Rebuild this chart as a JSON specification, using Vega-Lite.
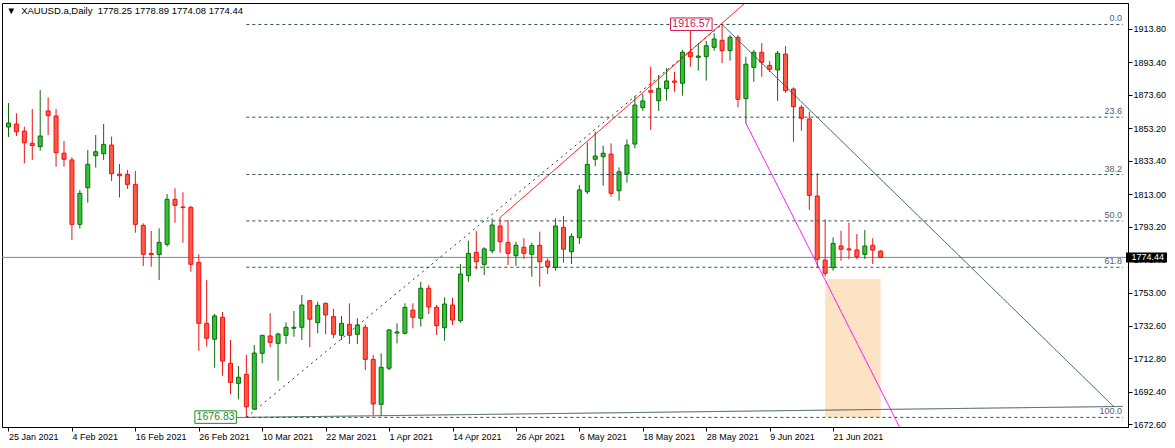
{
 "$schema": "https://vega.github.io/schema/vega-lite/v6.json",
 "width": 1126, "height": 424,
 "autosize": {"type": "none"},
 "padding": {"left": 2, "top": 3, "right": 47, "bottom": 21},
 "background": "white",
 "view": {"stroke": "#000", "strokeWidth": 1},
 "title": {"text": "▼\u00a0\u00a0XAUUSD.a,Daily\u00a0\u00a01778.25 1778.89 1774.08 1774.44", "anchor": "start", "frame": "group", "offset": 0, "dx": 4.5, "dy": 21, "baseline": "alphabetic", "fontSize": 9.5, "font": "Liberation Sans", "fontWeight": "normal", "color": "#000"},
 "config": {
  "axis": {"grid": false, "domainColor": "#000", "tickColor": "#000", "labelColor": "#000", "labelFont": "Liberation Sans", "labelFontSize": 9}
 },
 "resolve": {"axis": {"x": "independent", "y": "independent"}},
 "datasets": {
  "ohlc": [
   {"d":"2021-01-25","i":0,"o":1854.0,"h":1868.6,"l":1847.9,"c":1856.4},
   {"d":"2021-01-26","i":1,"o":1855.8,"h":1862.4,"l":1848.5,"c":1851.1},
   {"d":"2021-01-27","i":2,"o":1851.5,"h":1854.2,"l":1831.9,"c":1844.4},
   {"d":"2021-01-28","i":3,"o":1844.1,"h":1865.0,"l":1833.9,"c":1842.7},
   {"d":"2021-01-29","i":4,"o":1842.0,"h":1876.6,"l":1839.5,"c":1848.5},
   {"d":"2021-02-01","i":5,"o":1863.8,"h":1872.1,"l":1849.1,"c":1860.9},
   {"d":"2021-02-02","i":6,"o":1860.7,"h":1865.0,"l":1829.8,"c":1838.3},
   {"d":"2021-02-03","i":7,"o":1838.0,"h":1845.5,"l":1829.8,"c":1834.3},
   {"d":"2021-02-04","i":8,"o":1833.9,"h":1835.5,"l":1785.0,"c":1794.6},
   {"d":"2021-02-05","i":9,"o":1794.6,"h":1815.6,"l":1792.0,"c":1813.5},
   {"d":"2021-02-08","i":10,"o":1817.0,"h":1840.0,"l":1807.8,"c":1831.2},
   {"d":"2021-02-09","i":11,"o":1836.5,"h":1849.1,"l":1829.2,"c":1838.9},
   {"d":"2021-02-10","i":12,"o":1837.7,"h":1855.8,"l":1833.9,"c":1843.4},
   {"d":"2021-02-11","i":13,"o":1843.0,"h":1848.1,"l":1821.0,"c":1825.5},
   {"d":"2021-02-12","i":14,"o":1825.3,"h":1831.4,"l":1810.9,"c":1824.3},
   {"d":"2021-02-15","i":15,"o":1825.1,"h":1827.8,"l":1816.2,"c":1819.0},
   {"d":"2021-02-16","i":16,"o":1819.0,"h":1827.2,"l":1789.5,"c":1794.6},
   {"d":"2021-02-17","i":17,"o":1794.0,"h":1795.2,"l":1769.2,"c":1776.3},
   {"d":"2021-02-18","i":18,"o":1776.9,"h":1790.5,"l":1768.8,"c":1776.1},
   {"d":"2021-02-19","i":19,"o":1776.1,"h":1792.2,"l":1760.6,"c":1783.6},
   {"d":"2021-02-22","i":20,"o":1782.4,"h":1813.1,"l":1781.0,"c":1809.9},
   {"d":"2021-02-23","i":21,"o":1809.9,"h":1816.6,"l":1795.6,"c":1806.2},
   {"d":"2021-02-24","i":22,"o":1805.2,"h":1814.2,"l":1783.4,"c":1804.8},
   {"d":"2021-02-25","i":23,"o":1805.0,"h":1805.8,"l":1765.7,"c":1770.2},
   {"d":"2021-02-26","i":24,"o":1771.4,"h":1776.3,"l":1717.5,"c":1734.2},
   {"d":"2021-03-01","i":25,"o":1734.2,"h":1760.6,"l":1720.0,"c":1725.1},
   {"d":"2021-03-02","i":26,"o":1724.5,"h":1739.9,"l":1707.1,"c":1738.7},
   {"d":"2021-03-03","i":27,"o":1737.9,"h":1741.1,"l":1702.2,"c":1711.2},
   {"d":"2021-03-04","i":28,"o":1709.8,"h":1724.0,"l":1690.9,"c":1698.2},
   {"d":"2021-03-05","i":29,"o":1697.6,"h":1708.2,"l":1687.8,"c":1701.3},
   {"d":"2021-03-08","i":30,"o":1703.1,"h":1714.9,"l":1676.83,"c":1683.3},
   {"d":"2021-03-09","i":31,"o":1681.9,"h":1721.0,"l":1681.3,"c":1716.1},
   {"d":"2021-03-10","i":32,"o":1715.9,"h":1727.1,"l":1709.8,"c":1726.9},
   {"d":"2021-03-11","i":33,"o":1726.5,"h":1740.3,"l":1719.6,"c":1722.6},
   {"d":"2021-03-12","i":34,"o":1722.0,"h":1728.5,"l":1699.2,"c":1727.7},
   {"d":"2021-03-15","i":35,"o":1726.9,"h":1734.8,"l":1721.6,"c":1731.8},
   {"d":"2021-03-16","i":36,"o":1731.2,"h":1741.7,"l":1726.0,"c":1731.8},
   {"d":"2021-03-17","i":37,"o":1731.8,"h":1751.5,"l":1724.0,"c":1745.4},
   {"d":"2021-03-18","i":38,"o":1748.0,"h":1748.4,"l":1719.6,"c":1736.7},
   {"d":"2021-03-19","i":39,"o":1734.6,"h":1747.4,"l":1728.1,"c":1745.2},
   {"d":"2021-03-22","i":40,"o":1746.4,"h":1747.0,"l":1727.5,"c":1739.3},
   {"d":"2021-03-23","i":41,"o":1738.3,"h":1743.0,"l":1725.1,"c":1727.5},
   {"d":"2021-03-24","i":42,"o":1726.9,"h":1738.7,"l":1724.0,"c":1734.2},
   {"d":"2021-03-25","i":43,"o":1733.6,"h":1746.4,"l":1721.6,"c":1726.9},
   {"d":"2021-03-26","i":44,"o":1727.5,"h":1737.3,"l":1721.6,"c":1733.2},
   {"d":"2021-03-29","i":45,"o":1731.8,"h":1733.6,"l":1705.7,"c":1712.2},
   {"d":"2021-03-30","i":46,"o":1712.2,"h":1714.9,"l":1678.3,"c":1685.0},
   {"d":"2021-03-31","i":47,"o":1684.8,"h":1715.9,"l":1677.9,"c":1707.4},
   {"d":"2021-04-01","i":48,"o":1706.8,"h":1730.6,"l":1705.7,"c":1730.2},
   {"d":"2021-04-05","i":49,"o":1728.3,"h":1734.2,"l":1722.0,"c":1728.9},
   {"d":"2021-04-06","i":50,"o":1728.1,"h":1746.4,"l":1727.5,"c":1743.9},
   {"d":"2021-04-07","i":51,"o":1742.3,"h":1746.4,"l":1731.2,"c":1737.9},
   {"d":"2021-04-08","i":52,"o":1737.3,"h":1759.6,"l":1732.2,"c":1755.6},
   {"d":"2021-04-09","i":53,"o":1755.6,"h":1757.6,"l":1739.9,"c":1744.2},
   {"d":"2021-04-12","i":54,"o":1744.0,"h":1745.4,"l":1727.1,"c":1732.8},
   {"d":"2021-04-13","i":55,"o":1731.5,"h":1750.0,"l":1723.6,"c":1746.0},
   {"d":"2021-04-14","i":56,"o":1745.4,"h":1749.8,"l":1733.2,"c":1736.2},
   {"d":"2021-04-15","i":57,"o":1735.8,"h":1770.4,"l":1734.6,"c":1764.3},
   {"d":"2021-04-16","i":58,"o":1763.3,"h":1784.6,"l":1759.6,"c":1776.9},
   {"d":"2021-04-19","i":59,"o":1777.5,"h":1790.5,"l":1767.2,"c":1771.8},
   {"d":"2021-04-20","i":60,"o":1770.2,"h":1780.6,"l":1763.7,"c":1779.6},
   {"d":"2021-04-21","i":61,"o":1778.5,"h":1798.3,"l":1776.9,"c":1794.2},
   {"d":"2021-04-22","i":62,"o":1793.6,"h":1798.3,"l":1777.3,"c":1784.0},
   {"d":"2021-04-23","i":63,"o":1783.6,"h":1797.3,"l":1769.8,"c":1776.9},
   {"d":"2021-04-26","i":64,"o":1775.5,"h":1784.0,"l":1769.2,"c":1781.8},
   {"d":"2021-04-27","i":65,"o":1780.6,"h":1786.1,"l":1773.5,"c":1776.9},
   {"d":"2021-04-28","i":66,"o":1776.3,"h":1783.4,"l":1762.7,"c":1781.6},
   {"d":"2021-04-29","i":67,"o":1781.8,"h":1790.1,"l":1756.6,"c":1771.8},
   {"d":"2021-04-30","i":68,"o":1772.2,"h":1773.9,"l":1764.3,"c":1768.8},
   {"d":"2021-05-03","i":69,"o":1768.2,"h":1798.3,"l":1766.3,"c":1793.6},
   {"d":"2021-05-04","i":70,"o":1792.8,"h":1799.7,"l":1771.2,"c":1779.4},
   {"d":"2021-05-05","i":71,"o":1777.9,"h":1789.1,"l":1770.4,"c":1787.3},
   {"d":"2021-05-06","i":72,"o":1786.5,"h":1818.6,"l":1782.6,"c":1815.6},
   {"d":"2021-05-07","i":73,"o":1814.5,"h":1844.4,"l":1813.1,"c":1831.2},
   {"d":"2021-05-10","i":74,"o":1834.3,"h":1851.1,"l":1830.2,"c":1836.3},
   {"d":"2021-05-11","i":75,"o":1835.9,"h":1842.6,"l":1818.2,"c":1838.0},
   {"d":"2021-05-12","i":76,"o":1837.5,"h":1844.0,"l":1811.5,"c":1813.5},
   {"d":"2021-05-13","i":77,"o":1815.1,"h":1829.4,"l":1809.0,"c":1826.7},
   {"d":"2021-05-14","i":78,"o":1825.3,"h":1846.5,"l":1820.0,"c":1843.0},
   {"d":"2021-05-17","i":79,"o":1843.6,"h":1872.9,"l":1841.0,"c":1867.4},
   {"d":"2021-05-18","i":80,"o":1865.8,"h":1874.1,"l":1863.8,"c":1869.9},
   {"d":"2021-05-19","i":81,"o":1876.2,"h":1890.8,"l":1852.2,"c":1875.2},
   {"d":"2021-05-20","i":82,"o":1870.0,"h":1885.7,"l":1863.8,"c":1877.6},
   {"d":"2021-05-21","i":83,"o":1877.4,"h":1889.8,"l":1870.0,"c":1882.1},
   {"d":"2021-05-24","i":84,"o":1882.1,"h":1887.7,"l":1875.5,"c":1881.3},
   {"d":"2021-05-25","i":85,"o":1880.7,"h":1901.0,"l":1873.1,"c":1899.6},
   {"d":"2021-05-26","i":86,"o":1899.6,"h":1912.8,"l":1890.8,"c":1896.9},
   {"d":"2021-05-27","i":87,"o":1896.5,"h":1905.1,"l":1888.4,"c":1897.3},
   {"d":"2021-05-28","i":88,"o":1896.9,"h":1906.5,"l":1882.3,"c":1903.6},
   {"d":"2021-05-31","i":89,"o":1902.6,"h":1911.2,"l":1900.5,"c":1907.7},
   {"d":"2021-06-01","i":90,"o":1906.9,"h":1916.57,"l":1892.9,"c":1900.6},
   {"d":"2021-06-02","i":91,"o":1900.6,"h":1910.1,"l":1894.5,"c":1908.7},
   {"d":"2021-06-03","i":92,"o":1908.7,"h":1910.1,"l":1866.0,"c":1870.9},
   {"d":"2021-06-04","i":93,"o":1871.3,"h":1896.9,"l":1856.3,"c":1892.3},
   {"d":"2021-06-07","i":94,"o":1890.4,"h":1901.0,"l":1881.6,"c":1899.6},
   {"d":"2021-06-08","i":95,"o":1899.6,"h":1905.1,"l":1884.7,"c":1893.5},
   {"d":"2021-06-09","i":96,"o":1891.6,"h":1894.3,"l":1887.6,"c":1889.2},
   {"d":"2021-06-10","i":97,"o":1888.8,"h":1900.4,"l":1870.0,"c":1899.0},
   {"d":"2021-06-11","i":98,"o":1898.5,"h":1903.4,"l":1874.9,"c":1876.2},
   {"d":"2021-06-14","i":99,"o":1877.2,"h":1878.2,"l":1845.0,"c":1866.4},
   {"d":"2021-06-15","i":100,"o":1866.0,"h":1867.4,"l":1851.7,"c":1859.3},
   {"d":"2021-06-16","i":101,"o":1858.9,"h":1863.3,"l":1803.4,"c":1812.3},
   {"d":"2021-06-17","i":102,"o":1811.9,"h":1825.7,"l":1767.8,"c":1773.3},
   {"d":"2021-06-18","i":103,"o":1772.8,"h":1797.7,"l":1762.7,"c":1764.7},
   {"d":"2021-06-21","i":104,"o":1768.2,"h":1786.7,"l":1766.3,"c":1783.0},
   {"d":"2021-06-22","i":105,"o":1781.4,"h":1790.7,"l":1772.4,"c":1779.4},
   {"d":"2021-06-23","i":106,"o":1779.6,"h":1795.6,"l":1773.5,"c":1779.0},
   {"d":"2021-06-24","i":107,"o":1779.0,"h":1788.7,"l":1773.3,"c":1774.9},
   {"d":"2021-06-25","i":108,"o":1776.3,"h":1791.2,"l":1773.5,"c":1781.4},
   {"d":"2021-06-28","i":109,"o":1781.8,"h":1786.1,"l":1770.4,"c":1778.9},
   {"d":"2021-06-29","i":110,"o":1778.25,"h":1778.89,"l":1774.08,"c":1774.44}
  ],
  "fib": [
   {"level":"0.0","p":1916.57},
   {"level":"23.6","p":1859.99},
   {"level":"38.2","p":1824.99},
   {"level":"50.0","p":1796.70},
   {"level":"61.8","p":1768.41},
   {"level":"100.0","p":1676.83}
  ],
  "zone": [{"i0":103,"i1":110,"p0":1676.83,"p1":1761.2}],
  "bid": [{"p":1774.44}],
  "trend": [
   {"name":"dashed","i":30,"p":1676.83},{"name":"dashed","i":90,"p":1916.57},
   {"name":"red","i":61.9,"p":1798.3},{"name":"red","i":92.75,"p":1929.0},
   {"name":"slate","i":90,"p":1916.57},{"name":"slate","i":139.4,"p":1683.4},
   {"name":"magenta","i":93,"p":1856.3},{"name":"magenta","i":112.37,"p":1670.95},
   {"name":"support","i":28.75,"p":1676.75},{"name":"support","i":140.5625,"p":1683.5}
  ],
  "plabels": [
   {"kind":"low","i":30,"p":1676.83},
   {"kind":"high","i":90,"p":1916.57}
  ]
 },
 "layer": [
  {
   "data": {"name": "ohlc"},
   "mark": {"type": "rule", "strokeWidth": 1, "opacity": 0},
   "encoding": {
    "x": {"field": "i", "type": "quantitative", "scale": {"domain": [-0.1875, 140.5625], "nice": false, "zero": false},
      "axis": {"orient": "bottom", "values": [0,8,16,24,32,40,48,56,64,72,80,88,96,104],
        "labelExpr": "['25 Jan 2021','4 Feb 2021','16 Feb 2021','26 Feb 2021','10 Mar 2021','22 Mar 2021','1 Apr 2021','14 Apr 2021','26 Apr 2021','6 May 2021','18 May 2021','28 May 2021','9 Jun 2021','21 Jun 2021'][round(datum.value/8)]",
        "labelAlign": "left", "labelBaseline": "top", "labelPadding": 1, "tickSize": 4, "labelFlush": false, "labelOverlap": false, "labelBound": false, "title": null}},
    "y": {"field": "l", "type": "quantitative", "scale": {"domain": [1670.95, 1929.66], "nice": false, "zero": false},
      "axis": {"orient": "right", "values": [1913.8,1893.4,1873.6,1853.2,1833.4,1813.0,1793.2,1773.4,1753.0,1732.6,1712.8,1692.4,1672.6],
        "format": ".2f", "labelAlign": "left", "labelBaseline": "middle", "labelPadding": 1, "tickSize": 4, "labelFlush": false, "labelOverlap": false, "labelBound": false, "title": null}},
    "y2": {"field": "h"}
   }
  },
  {
   "data": {"name": "zone"},
   "mark": {"type": "rect", "color": "#FDE2C4"},
   "encoding": {
    "x": {"field": "i0", "type": "quantitative", "axis": null},
    "x2": {"field": "i1"},
    "y": {"field": "p0", "type": "quantitative", "axis": null},
    "y2": {"field": "p1"}
   }
  },
  {
   "data": {"name": "bid"},
   "mark": {"type": "rule", "color": "#75889A", "strokeWidth": 1},
   "encoding": {"y": {"field": "p", "type": "quantitative", "axis": null}}
  },
  {
   "data": {"name": "ohlc"},
   "mark": {"type": "rule", "strokeWidth": 1},
   "encoding": {
    "x": {"field": "i", "type": "quantitative", "axis": null},
    "y": {"field": "l", "type": "quantitative", "axis": null},
    "y2": {"field": "h"},
    "color": {"condition": {"test": "datum.c >= datum.o", "value": "#0B6B0B"}, "value": "#F01010"}
   }
  },
  {
   "data": {"name": "ohlc"},
   "mark": {"type": "bar", "size": 4, "strokeWidth": 1, "orient": "vertical"},
   "encoding": {
    "x": {"field": "i", "type": "quantitative", "axis": null},
    "y": {"field": "o", "type": "quantitative", "axis": null},
    "y2": {"field": "c"},
    "fill": {"condition": {"test": "datum.c >= datum.o", "value": "#33C433"}, "value": "#FF5A45"},
    "stroke": {"condition": {"test": "datum.c >= datum.o", "value": "#0B6B0B"}, "value": "#F01010"}
   }
  },
  {
   "data": {"name": "fib"},
   "mark": {"type": "rule", "color": "#2F4F4F", "strokeDash": [3, 3], "strokeWidth": 1},
   "encoding": {
    "x": {"datum": 30, "type": "quantitative", "axis": null},
    "x2": {"datum": 140.5625},
    "y": {"field": "p", "type": "quantitative", "axis": null}
   }
  },
  {
   "data": {"name": "trend"},
   "mark": {"type": "line", "strokeWidth": 1},
   "encoding": {
    "x": {"field": "i", "type": "quantitative", "axis": null},
    "y": {"field": "p", "type": "quantitative", "axis": null},
    "detail": {"field": "name"},
    "color": {"field": "name", "type": "nominal", "scale": {"domain": ["dashed","red","slate","magenta","support"], "range": ["#333333","#FF0000","#2F4F4F","#FF00FF","#2F4F4F"]}, "legend": null},
    "strokeDash": {"field": "name", "type": "nominal", "scale": {"domain": ["dashed","red","slate","magenta","support"], "range": [[2,4],[1,0],[1,0],[1,0],[1,0]]}, "legend": null}
   }
  },
  {
   "data": {"name": "fib"},
   "mark": {"type": "text", "align": "right", "baseline": "bottom", "dx": -1, "dy": -1, "fontSize": 9, "font": "Liberation Sans", "color": "#4F6070"},
   "encoding": {
    "x": {"datum": 140.5625, "type": "quantitative", "axis": null},
    "y": {"field": "p", "type": "quantitative", "axis": null},
    "text": {"field": "level"}
   }
  },
  {
   "data": {"name": "plabels"},
   "mark": {"type": "rect", "fill": "white", "strokeWidth": 1, "xOffset": -51.5, "x2Offset": -10, "yOffset": -6.5, "y2Offset": 6},
   "encoding": {
    "x": {"field": "i", "type": "quantitative", "axis": null},
    "x2": {"field": "i"},
    "y": {"field": "p", "type": "quantitative", "axis": null},
    "y2": {"field": "p"},
    "stroke": {"field": "kind", "type": "nominal", "scale": {"domain": ["low","high"], "range": ["#1E8A1E","#D0145A"]}, "legend": null}
   }
  },
  {
   "data": {"name": "plabels"},
   "mark": {"type": "text", "align": "center", "baseline": "middle", "xOffset": -30.75, "fontSize": 10.5, "font": "Liberation Sans"},
   "encoding": {
    "x": {"field": "i", "type": "quantitative", "axis": null},
    "y": {"field": "p", "type": "quantitative", "axis": null},
    "text": {"field": "p", "format": ".2f"},
    "fill": {"field": "kind", "type": "nominal", "scale": {"domain": ["low","high"], "range": ["#1E8A1E","#D0145A"]}, "legend": null}
   }
  },
  {
   "data": {"name": "bid"},
   "mark": {"type": "rect", "fill": "#000", "xOffset": 3, "x2Offset": 44, "yOffset": -5, "y2Offset": 5},
   "encoding": {
    "x": {"datum": 140.5625, "type": "quantitative", "axis": null},
    "x2": {"datum": 140.5625},
    "y": {"field": "p", "type": "quantitative", "axis": null},
    "y2": {"field": "p"}
   }
  },
  {
   "data": {"name": "bid"},
   "mark": {"type": "text", "align": "left", "baseline": "middle", "dx": 8.5, "fontSize": 9, "font": "Liberation Sans", "color": "#FFFFFF"},
   "encoding": {
    "x": {"datum": 140.5625, "type": "quantitative", "axis": null},
    "y": {"field": "p", "type": "quantitative", "axis": null},
    "text": {"field": "p", "format": ".2f"}
   }
  }
 ]
}
